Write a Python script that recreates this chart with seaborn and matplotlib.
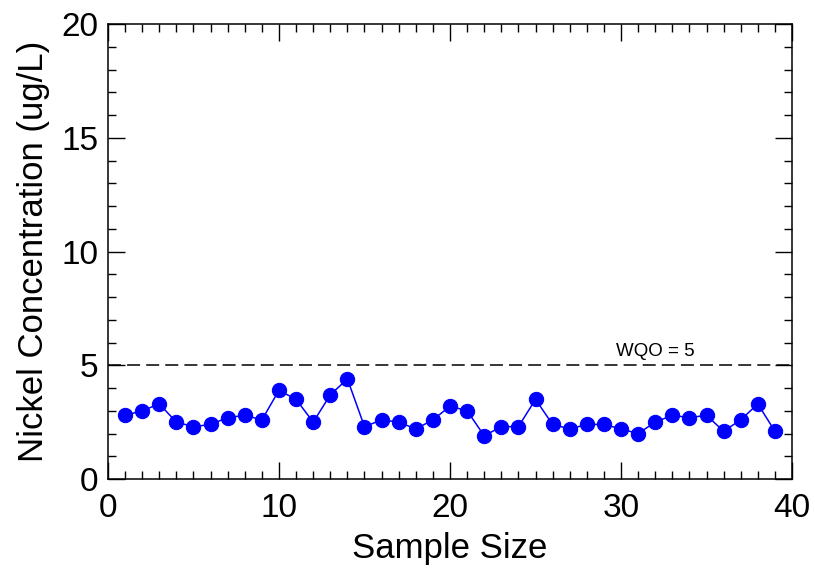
import matplotlib
matplotlib.use("Agg")
import matplotlib.pyplot as plt
import seaborn as sns
import pandas as pd
from matplotlib.ticker import MultipleLocator

sample = list(range(1, 40))
nickel = [2.8, 3.0, 3.3, 2.5, 2.3, 2.4, 2.7, 2.8, 2.6, 3.9,
          3.5, 2.5, 3.7, 4.4, 2.3, 2.6, 2.5, 2.2, 2.6, 3.2,
          3.0, 1.9, 2.3, 2.3, 3.5, 2.4, 2.2, 2.4, 2.4, 2.2,
          2.0, 2.5, 2.8, 2.7, 2.8, 2.1, 2.6, 3.3, 2.1]
wqo = 5

sns.set_style("ticks")
plt.rcParams['font.family'] = ['Liberation Sans', 'DejaVu Sans']
plt.rcParams['text.color'] = 'black'
plt.rcParams['axes.labelcolor'] = 'black'
plt.rcParams['xtick.color'] = 'black'
plt.rcParams['ytick.color'] = 'black'

df = pd.DataFrame({"Sample Size": sample, "Nickel": nickel})

fig = plt.figure(figsize=(8.15, 5.74), dpi=100)
ax = fig.add_axes([0.1325, 0.1655, 0.8393, 0.7925])

sns.lineplot(data=df, x="Sample Size", y="Nickel", ax=ax, color="#0000FF",
             marker="o", markersize=10.3, markeredgecolor="#0000FF",
             linewidth=1.1)
ax.axhline(wqo, color="black", linestyle=(0, (8.5, 4)), linewidth=1.1)
ax.text(32.0, wqo + 0.25, f"WQO = {wqo}", fontsize=13.5, ha="center", va="bottom")

ax.set_xlim(0, 40)
ax.set_ylim(0, 20)
ax.xaxis.set_major_locator(MultipleLocator(10))
ax.xaxis.set_minor_locator(MultipleLocator(1))
ax.yaxis.set_major_locator(MultipleLocator(5))
ax.yaxis.set_minor_locator(MultipleLocator(1))
ax.tick_params(which="both", direction="in", top=True, right=True,
               labelsize=24, color="black", labelcolor="black", width=1.0)
ax.tick_params(which="major", length=12)
ax.tick_params(which="minor", length=6)
ax.tick_params(axis="x", which="major", pad=10)
ax.tick_params(axis="y", which="major", pad=7)
for s in ax.spines.values():
    s.set_linewidth(1.1)
    s.set_color("black")
ax.set_xlabel("Sample Size", fontsize=25, labelpad=6, color="black")
ax.set_ylabel("Nickel Concentration (ug/L)", fontsize=25, labelpad=8, color="black")

fig.savefig("out.png", dpi=100)
